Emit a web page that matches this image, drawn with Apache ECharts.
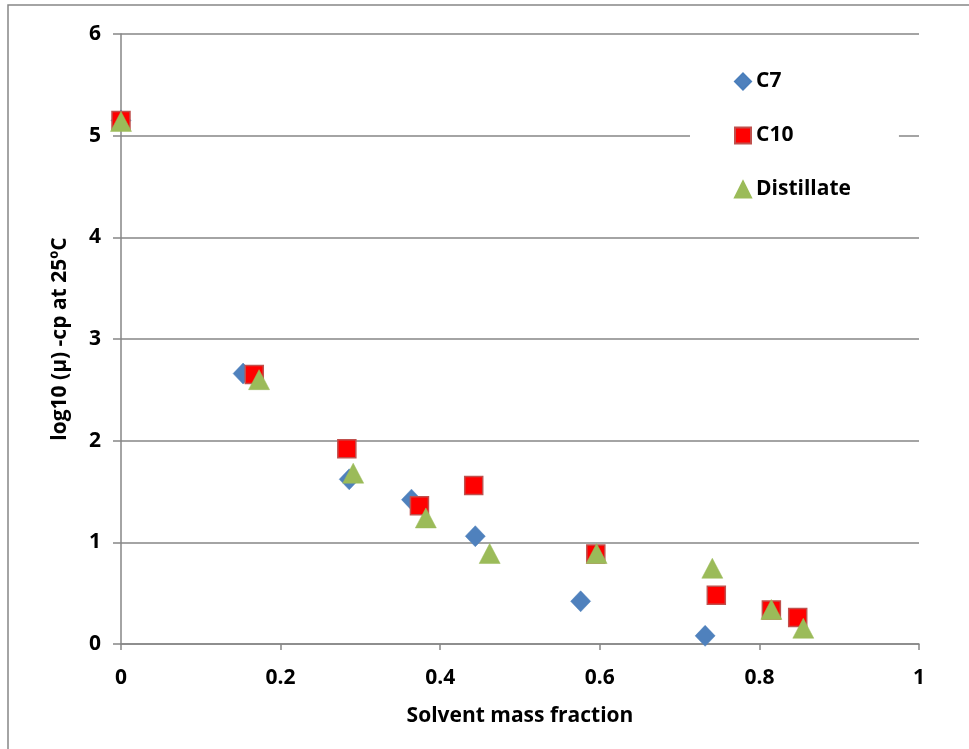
<!DOCTYPE html>
<html>
<head>
<meta charset="utf-8">
<script src="https://cdn.jsdelivr.net/npm/echarts@6/dist/echarts.min.js"></script>
<style>
  html, body { margin: 0; padding: 0; background: #fff; }
  #chart { width: 969px; height: 749px; }
</style>
</head>
<body>
<div id="chart"></div>
<script>
// Viscosity (log10 cP at 25 °C) against solvent mass fraction for three diluents
const c7X = [0, 0.153, 0.286, 0.364, 0.444, 0.576, 0.732];
const c7Y = [5.15, 2.66, 1.62, 1.42, 1.06, 0.42, 0.08];

const c10X = [0, 0.167, 0.283, 0.374, 0.442, 0.595, 0.746, 0.815, 0.848];
const c10Y = [5.15, 2.65, 1.92, 1.36, 1.56, 0.885, 0.48, 0.335, 0.26];

const distX = [0, 0.173, 0.291, 0.382, 0.462, 0.596, 0.741, 0.815, 0.855];
const distY = [5.14, 2.60, 1.68, 1.24, 0.89, 0.89, 0.745, 0.34, 0.155];

const xTicks = [0, 0.2, 0.4, 0.6, 0.8, 1];
const yTicks = [0, 1, 2, 3, 4, 5, 6];

const pairs = (xs, ys) => xs.map((x, i) => [x, ys[i]]);

const FONT = '"Open Sans", "Liberation Sans", sans-serif';
const FSIZE = 21;
const GRID_GREY = '#868686';

const chart = echarts.init(document.getElementById('chart'), null, { renderer: 'canvas' });

chart.setOption({
  animation: false,
  backgroundColor: '#fff',
  textStyle: { fontFamily: FONT },
  graphic: [{
    type: 'rect',
    shape: { x: 8, y: 5, width: 1000, height: 800 },
    style: { fill: 'none', stroke: GRID_GREY, lineWidth: 1.5 },
    z: -1
  }],
  grid: { left: 121, right: 50, top: 34, bottom: 105 },
  legend: {
    orient: 'vertical',
    left: 690,
    top: 57,
    padding: [14, 48, 14, 44],
    backgroundColor: '#fff',
    itemWidth: 16,
    itemHeight: 16,
    itemGap: 33,
    textStyle: { fontFamily: FONT, fontWeight: 'bold', fontSize: FSIZE, color: '#000' },
    data: ['C7', 'C10', 'Distillate']
  },
  xAxis: {
    type: 'value',
    min: 0,
    max: 1,
    interval: 0.2,
    name: 'Solvent mass fraction',
    nameLocation: 'middle',
    nameGap: 62,
    nameTextStyle: { fontFamily: FONT, fontWeight: 'bold', fontSize: FSIZE, color: '#000' },
    axisLine: { show: true, lineStyle: { color: GRID_GREY, width: 1.5 } },
    axisTick: { show: true, length: 6, inside: false, lineStyle: { color: GRID_GREY, width: 1.5 } },
    splitLine: { show: false },
    axisLabel: {
      margin: 24,
      fontFamily: FONT, fontWeight: 'bold', fontSize: FSIZE, color: '#000',
      formatter: v => {
        const t = xTicks.find(k => Math.abs(k - v) < 1e-9);
        return t === undefined ? '' : String(t);
      }
    }
  },
  yAxis: {
    type: 'value',
    min: 0,
    max: 6,
    interval: 1,
    name: 'log10 (µ) -cp at 25ºC',
    nameLocation: 'middle',
    nameGap: 50,
    nameTextStyle: { fontFamily: FONT, fontWeight: 'bold', fontSize: FSIZE, color: '#000' },
    axisLine: { show: true, lineStyle: { color: GRID_GREY, width: 1.5 } },
    axisTick: { show: true, length: 8, inside: false, lineStyle: { color: GRID_GREY, width: 1.5 } },
    splitLine: { show: true, lineStyle: { color: GRID_GREY, width: 1.5 } },
    axisLabel: {
      margin: 20,
      fontFamily: FONT, fontWeight: 'bold', fontSize: FSIZE, color: '#000',
      formatter: v => {
        const t = yTicks.find(k => Math.abs(k - v) < 1e-9);
        return t === undefined ? '' : String(t);
      }
    }
  },
  series: [
    {
      name: 'C7',
      type: 'scatter',
      symbol: 'diamond',
      symbolSize: [20, 21],
      itemStyle: { color: '#4F81BD', borderColor: '#4A7EBB', borderWidth: 0.5, opacity: 1 },
      data: pairs(c7X, c7Y),
      z: 2
    },
    {
      name: 'C10',
      type: 'scatter',
      symbol: 'rect',
      symbolSize: 18,
      itemStyle: { color: '#FF0000', borderColor: '#C0504D', borderWidth: 1.5, opacity: 1 },
      data: pairs(c10X, c10Y),
      z: 3
    },
    {
      name: 'Distillate',
      type: 'scatter',
      symbol: 'triangle',
      symbolSize: [21, 20],
      itemStyle: { color: '#9BBB59', borderColor: '#9BBB59', borderWidth: 0.5, opacity: 1 },
      data: pairs(distX, distY),
      z: 4
    }
  ]
});
</script>
</body>
</html>
